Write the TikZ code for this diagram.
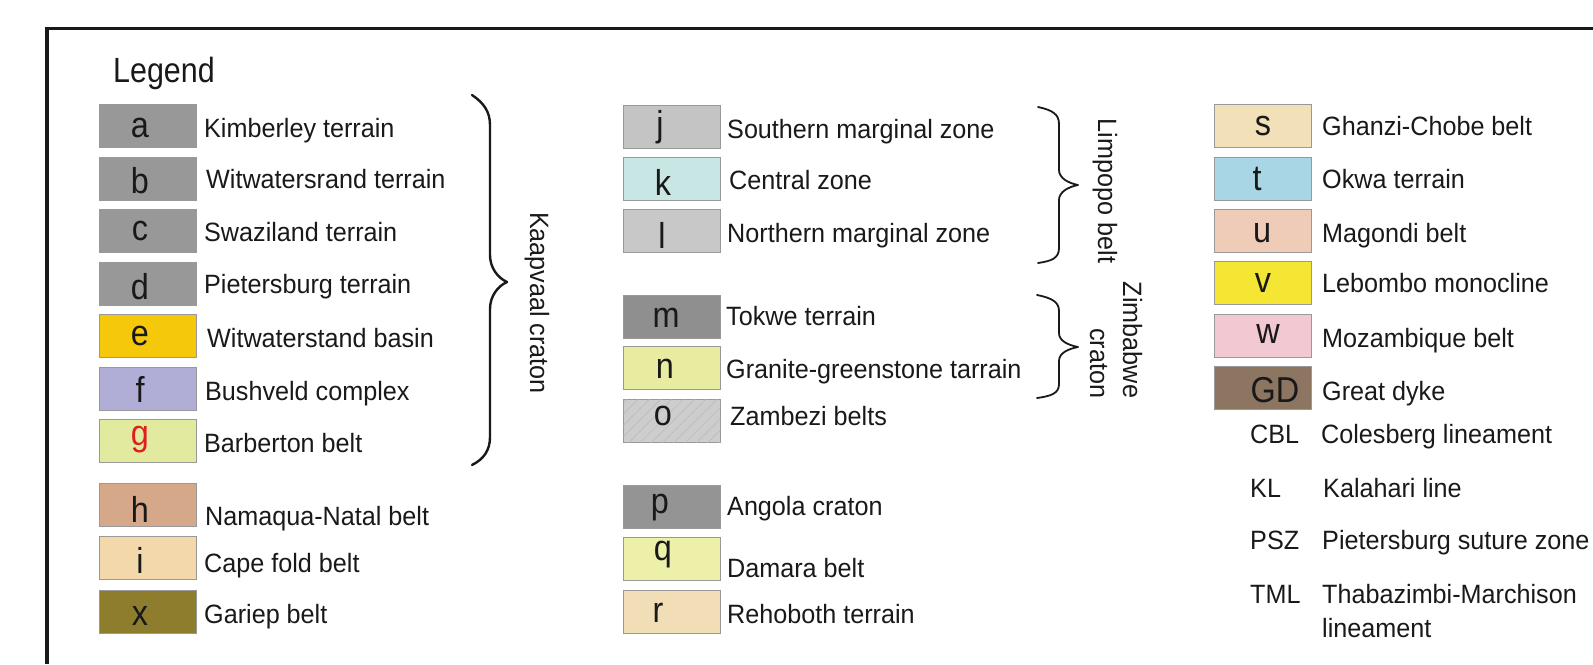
\documentclass[tikz,border=0pt]{standalone}
\usepackage{fontspec}
\setmainfont[FakeStretch=0.95]{Liberation Sans}
\newfontfamily\legendfont[FakeStretch=0.87]{Liberation Sans}
\newfontfamily\letterfont[FakeStretch=0.9]{Liberation Sans}
\usetikzlibrary{patterns.meta}
\definecolor{cA}{RGB}{152,152,152}
\definecolor{cE}{RGB}{246,200,12}
\definecolor{cF}{RGB}{176,174,214}
\definecolor{cG}{RGB}{226,234,160}
\definecolor{cH}{RGB}{214,168,138}
\definecolor{cI}{RGB}{243,216,172}
\definecolor{cX}{RGB}{142,125,45}
\definecolor{cJ}{RGB}{196,196,196}
\definecolor{cK}{RGB}{200,230,228}
\definecolor{cL}{RGB}{200,200,200}
\definecolor{cM}{RGB}{143,143,143}
\definecolor{cN}{RGB}{232,236,160}
\definecolor{cO}{RGB}{205,205,205}
\definecolor{cP}{RGB}{148,148,148}
\definecolor{cQ}{RGB}{236,240,168}
\definecolor{cR}{RGB}{242,222,182}
\definecolor{cS}{RGB}{242,224,184}
\definecolor{cT}{RGB}{168,214,228}
\definecolor{cU}{RGB}{238,204,184}
\definecolor{cV}{RGB}{244,230,50}
\definecolor{cW}{RGB}{242,200,210}
\definecolor{cGD}{RGB}{140,118,98}
\definecolor{gred}{RGB}{225,30,30}
\definecolor{ink}{RGB}{25,25,25}
\begin{document}
\begin{tikzpicture}[x=1pt,y=-1pt,
  lbox/.style={draw=black!40, line width=0.9pt, minimum width=97pt, minimum height=43pt, inner sep=0pt, anchor=north west},
  letter/.style={inner sep=0pt, anchor=base, text=ink, font=\letterfont\fontsize{36}{40}\selectfont},
  lab/.style={inner sep=0pt, anchor=base west, text=ink, font=\fontsize{26.5}{30}\selectfont},
  bracea/.style={line width=2.4pt, line cap=round, line join=round, draw=ink},
  braceb/.style={line width=1.8pt, line cap=round, line join=round, draw=ink},
  side/.style={inner sep=0pt, rotate=-90, text=ink, font=\fontsize{26.5}{33}\selectfont}]
\useasboundingbox (0,0) rectangle (1593,664);
% frame
\coordinate (fr-bl) at (47,664);
\coordinate (fr-tl) at (47,28.5);
\coordinate (fr-tr) at (1593,28.5);
\draw[line width=3.5pt, draw=ink] (fr-bl) -- (fr-tl) -- (fr-tr);
% title
\node[inner sep=0pt, anchor=base west, text=ink, font=\legendfont\fontsize{35}{40}\selectfont] (legend) at (113,82) {Legend};
% column 1
\foreach \n/\ty/\cl/\lt/\lb/\txt/\tx/\tb in {
 a/104/cA/a/137/Kimberley terrain/204/137,
 b/157/cA/b/193/Witwatersrand terrain/206/188,
 c/209/cA/c/240/Swaziland terrain/204/241,
 d/262/cA/d/299/Pietersburg terrain/204/293,
 e/314/cE/e/345/Witwaterstand basin/207/347,
 f/367/cF/f/402/Bushveld complex/205/400,
 g/419/cG/{\textcolor{gred}{g}}/445/Barberton belt/204/452,
 h/483/cH/h/522/Namaqua-Natal belt/205/525,
 i/536/cI/i/573/Cape fold belt/204/572,
 x/590/cX/x/625/Gariep belt/204/623}
{
 \node[lbox, fill=\cl] (box-\n) at (99,\ty) {};
 \node[letter] (let-\n) at (140,\lb) {\lt};
 \node[lab] (lab-\n) at (\tx,\tb) {\txt};
}
% column 2
\foreach \n/\ty/\cl/\lt/\lx/\lb/\txt/\tx/\tb in {
 j/105/cJ/j/660/136/Southern marginal zone/727/138,
 k/157/cK/k/663/195/Central zone/729/189,
 l/209/cL/l/662/248/Northern marginal zone/727/242,
 m/295/cM/m/666/327/Tokwe terrain/726/325,
 n/346/cN/n/665/378/Granite-greenstone tarrain/726/378,
 p/485/cP/p/660/513/Angola craton/727/515,
 q/537/cQ/q/663/560/Damara belt/727/577,
 r/590/cR/r/658/622/Rehoboth terrain/727/623}
{
 \node[lbox, fill=\cl] (box-\n) at (623,\ty) {};
 \node[letter] (let-\n) at (\lx,\lb) {\lt};
 \node[lab] (lab-\n) at (\tx,\tb) {\txt};
}
\node[lbox, fill=cO, postaction={pattern={Lines[angle=45,distance=8pt,line width=0.5pt]}, pattern color=black!28}] (box-o) at (623,399) {};
\node[letter] (let-o) at (663,425) {o};
\node[lab] (lab-o) at (730,425) {Zambezi belts};
% column 3
\foreach \n/\ty/\cl/\lt/\lx/\lb/\txt/\tb in {
 s/104/cS/s/1263/135/Ghanzi-Chobe belt/135,
 t/157/cT/t/1257/190/Okwa terrain/188,
 u/209/cU/u/1262/242/Magondi belt/242,
 v/261/cV/v/1263/292/Lebombo monocline/292,
 w/314/cW/w/1268/343/Mozambique belt/347,
 gd/366/cGD/GD/1275/402/Great dyke/400}
{
 \node[lbox, fill=\cl] (box-\n) at (1214,\ty) {};
 \node[letter] (let-\n) at (\lx,\lb) {\lt};
 \node[lab] (lab-\n) at (1322,\tb) {\txt};
}
% abbreviations
\node[lab] (ab-cbl) at (1250,443) {CBL};
\node[lab] (lab-cbl) at (1321,443) {Colesberg lineament};
\node[lab] (ab-kl) at (1250,497) {KL};
\node[lab] (lab-kl) at (1323,497) {Kalahari line};
\node[lab] (ab-psz) at (1250,549) {PSZ};
\node[lab] (lab-psz) at (1322,549) {Pietersburg suture zone};
\node[lab] (ab-tml) at (1250,603) {TML};
\node[lab] (lab-tml) at (1322,603) {Thabazimbi-Marchison};
\node[lab] (lab-tml2) at (1322,637) {lineament};
% Kaapvaal brace
\coordinate (kv-top) at (472,95);
\coordinate (kv-tip) at (507,282);
\coordinate (kv-bot) at (472,465);
\draw[bracea] (kv-top) .. controls (484,103) and (490,112) .. (490,125) -- (490,255)
  .. controls (490,268) and (498,278) .. (kv-tip)
  .. controls (498,286) and (490,296) .. (490,309) -- (490,437)
  .. controls (490,450) and (484,459) .. (kv-bot);
\node[side] (kaapvaal) at (537,303) {Kaapvaal craton};
% Limpopo brace
\coordinate (lp-top) at (1038,107);
\coordinate (lp-tip) at (1078,185);
\coordinate (lp-bot) at (1038,263);
\draw[braceb] (lp-top) .. controls (1052,110) and (1059,114) .. (1059,124) -- (1059,170)
  .. controls (1059,178) and (1068,183) .. (lp-tip)
  .. controls (1068,187) and (1059,192) .. (1059,200) -- (1059,248)
  .. controls (1059,258) and (1052,261) .. (lp-bot);
\node[side] (limpopo) at (1105,191) {Limpopo belt};
% Zimbabwe brace
\coordinate (zb-top) at (1037,295);
\coordinate (zb-tip) at (1078,347);
\coordinate (zb-bot) at (1037,398);
\draw[braceb] (zb-top) .. controls (1052,298) and (1059,302) .. (1059,311) -- (1059,333)
  .. controls (1059,341) and (1068,345) .. (zb-tip)
  .. controls (1068,349) and (1059,353) .. (1059,361) -- (1059,384)
  .. controls (1059,393) and (1052,396) .. (zb-bot);
\node[side, align=right] (zimbabwe) at (1116,340) {Zimbabwe\\craton};
\end{tikzpicture}
\end{document}
